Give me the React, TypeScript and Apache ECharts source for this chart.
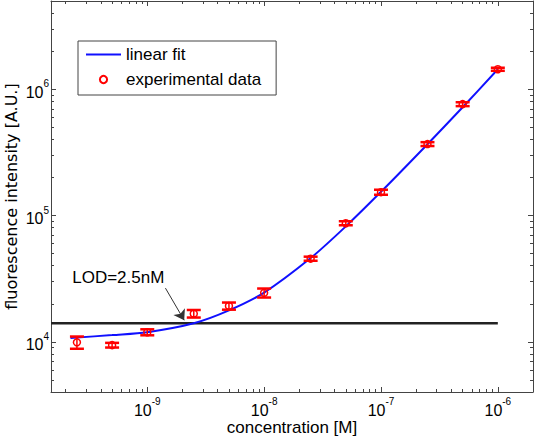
import React, { useEffect, useRef } from 'react';
import * as echarts from 'echarts';

// ---- data ----
const concentrations = [2.5e-10, 5e-10, 1e-9, 2.5e-9, 5e-9, 1e-8, 2.5e-8, 5e-8, 1e-7, 2.5e-7, 5e-7, 1e-6];
const intensities = [9.9e3, 9.4e3, 1.19e4, 1.67e4, 1.92e4, 2.44e4, 4.55e4, 8.69e4, 1.53e5, 3.68e5, 7.62e5, 1.44e6];
const errors = [1100, 400, 650, 1150, 1250, 2000, 1700, 3200, 7000, 13000, 27000, 40000];

const fitConcentrations = [2.2e-10, 5e-10, 1e-9, 2.5e-9, 5e-9, 1e-8, 2.5e-8, 5e-8, 1e-7, 2.5e-7, 5e-7, 1e-6];
const fitValues = [1.07e4, 1.13e4, 1.19e4, 1.4e4, 1.77e4, 2.45e4, 4.6e4, 8.2e4, 1.54e5, 3.67e5, 7.2e5, 1.44e6];

const lodLevel = 1.4e4;
const lodRange = [1.5e-10, 1e-6];
const lodLabel = 'LOD=2.5nM';
const lodLabelPos = [5.65e-10, 3.2e4];
const arrowFrom = [1.43e-9, 2.66e4];
const arrowTo = [2.07e-9, 1.48e4];

const xRange = [1.5e-10, 2e-6];
const yRange = [4e3, 5e6];
const xMajorTicks = [1e-9, 1e-8, 1e-7, 1e-6];
const yMajorTicks = [1e4, 1e5, 1e6];
const minorMantissas = [2, 3, 4, 5, 6, 7, 8, 9];
const xMinorDecades = [1e-10, 1e-9, 1e-8, 1e-7, 1e-6];
const yMinorDecades = [1e3, 1e4, 1e5, 1e6];

const xTitle = 'concentration [M]';
const yTitle = 'fluorescence intensity [A.U.]';
const fitName = 'linear fit';
const dataName = 'experimental data';

const FONT = '"Liberation Sans", Arial, sans-serif';
const AXIS_COLOR = '#444';

const minorTicks = (decades: number[], range: number[]) =>
  decades
    .flatMap((d) => minorMantissas.map((m) => m * d))
    .filter((v) => v > range[0] * 1.0001 && v < range[1] * 0.9999);

const expLabel = (v: number) => {
  const e = v > 0 && (v < 1e-2 || v > 100) ? Math.round(Math.log10(v)) : Math.round(v);
  return `{b|10}{s|${e}}`;
};

const rich = {
  b: { fontSize: 16, fontFamily: FONT, color: '#000', padding: [6, 0, 0, 0] },
  s: { fontSize: 10, fontFamily: FONT, color: '#000', padding: [0, 0, 11, 0] },
};

export default function App() {
  const ref = useRef<HTMLDivElement>(null);

  useEffect(() => {
    if (!ref.current) return;
    const chart = echarts.init(ref.current, null, { renderer: 'svg' });

    const xMinor = minorTicks(xMinorDecades, xRange);
    const yMinor = minorTicks(yMinorDecades, yRange);

    const baseX = (position: 'bottom' | 'top') => ({
      type: 'log' as const,
      logBase: 10,
      min: xRange[0],
      max: xRange[1],
      position,
      splitLine: { show: false },
      axisLine: { show: true, onZero: false, lineStyle: { color: AXIS_COLOR, width: 1 } },
    });
    const baseY = (position: 'left' | 'right') => ({
      type: 'log' as const,
      logBase: 10,
      min: yRange[0],
      max: yRange[1],
      position,
      splitLine: { show: false },
      axisLine: { show: true, onZero: false, lineStyle: { color: AXIS_COLOR, width: 1 } },
    });

    const xAxes = [
      {
        ...baseX('bottom'),
        name: xTitle,
        nameLocation: 'middle',
        nameGap: 27,
        nameMoveOverlap: false,
        nameTextStyle: { fontFamily: FONT, fontSize: 17, color: '#000' },
        axisTick: { show: true, inside: true, length: 5, customValues: xMajorTicks, lineStyle: { color: AXIS_COLOR } },
        axisLabel: { show: true, customValues: xMajorTicks, margin: 4, formatter: expLabel, rich },
      },
      {
        ...baseX('bottom'),
        axisLine: { show: false },
        axisTick: { show: true, inside: true, length: 3, customValues: xMinor, lineStyle: { color: AXIS_COLOR } },
        axisLabel: { show: false },
      },
      {
        ...baseX('top'),
        axisTick: { show: true, inside: true, length: 5, customValues: xMajorTicks, lineStyle: { color: AXIS_COLOR } },
        axisLabel: { show: false },
      },
      {
        ...baseX('top'),
        axisLine: { show: false },
        axisTick: { show: true, inside: true, length: 3, customValues: xMinor, lineStyle: { color: AXIS_COLOR } },
        axisLabel: { show: false },
      },
    ];

    const yAxes = [
      {
        ...baseY('left'),
        name: yTitle,
        nameLocation: 'middle',
        nameGap: 32,
        nameMoveOverlap: false,
        nameTextStyle: { fontFamily: '"DejaVu Sans", sans-serif', fontSize: 16, color: '#000' },
        axisTick: { show: true, inside: true, length: 5, customValues: yMajorTicks, lineStyle: { color: AXIS_COLOR } },
        axisLabel: { show: true, customValues: yMajorTicks, margin: 2, formatter: expLabel, rich },
      },
      {
        ...baseY('left'),
        axisLine: { show: false },
        axisTick: { show: true, inside: true, length: 3, customValues: yMinor, lineStyle: { color: AXIS_COLOR } },
        axisLabel: { show: false },
      },
      {
        ...baseY('right'),
        axisTick: { show: true, inside: true, length: 5, customValues: yMajorTicks, lineStyle: { color: AXIS_COLOR } },
        axisLabel: { show: false },
      },
      {
        ...baseY('right'),
        axisLine: { show: false },
        axisTick: { show: true, inside: true, length: 3, customValues: yMinor, lineStyle: { color: AXIS_COLOR } },
        axisLabel: { show: false },
      },
    ];

    const errorData = concentrations.map((c, i) => [c, intensities[i] - errors[i], intensities[i] + errors[i]]);

    chart.setOption({
      animation: false,
      backgroundColor: '#fff',
      grid: { left: 51, top: 1, right: 2, bottom: 48, containLabel: false, outerBoundsMode: 'none' },
      xAxis: xAxes,
      yAxis: yAxes,
      legend: {
        left: 78,
        top: 41,
        orient: 'vertical',
        padding: [5, 15, 7, 7],
        itemGap: 8,
        itemWidth: 35,
        itemHeight: 9,
        backgroundColor: '#fff',
        borderColor: AXIS_COLOR,
        borderWidth: 1,
        borderRadius: 0,
        selectedMode: false,
        textStyle: { fontFamily: FONT, fontSize: 17, color: '#000' },
        data: [
          { name: fitName, itemStyle: { opacity: 0 } },
          { name: dataName },
        ],
      },
      series: [
        {
          name: 'LOD',
          type: 'line',
          data: lodRange.map((c) => [c, lodLevel]),
          symbol: 'none',
          lineStyle: { color: '#222', width: 2.5 },
          z: 2,
          silent: true,
          markLine: {
            silent: true,
            symbol: ['none', 'arrow'],
            symbolSize: 10,
            itemStyle: { color: '#111' },
            lineStyle: { color: '#333', width: 1, type: 'solid' },
            label: { show: false },
            data: [[{ coord: arrowFrom }, { coord: arrowTo }]],
          },
        },
        {
          name: fitName,
          type: 'line',
          data: fitConcentrations.map((c, i) => [c, fitValues[i]]),
          symbol: 'none',
          smooth: 0.3,
          lineStyle: { color: '#1010ff', width: 2 },
          itemStyle: { color: '#1010ff' },
          z: 3,
          silent: true,
        },
        {
          name: 'error bars',
          type: 'custom',
          data: errorData,
          encode: { x: 0, y: [1, 2] },
          z: 4,
          silent: true,
          renderItem: (_params: any, api: any) => {
            const x = api.value(0);
            const lo = api.coord([x, api.value(1)]);
            const hi = api.coord([x, api.value(2)]);
            const w = 7;
            const bar = { stroke: '#ff0000', lineWidth: 1.5 };
            const cap = { stroke: '#ff0000', lineWidth: 2.5 };
            return {
              type: 'group',
              children: [
                { type: 'line', shape: { x1: lo[0], y1: lo[1], x2: hi[0], y2: hi[1] }, style: bar },
                { type: 'line', shape: { x1: lo[0] - w, y1: lo[1], x2: lo[0] + w, y2: lo[1] }, style: cap },
                { type: 'line', shape: { x1: hi[0] - w, y1: hi[1], x2: hi[0] + w, y2: hi[1] }, style: cap },
              ],
            };
          },
        },
        {
          name: dataName,
          type: 'line',
          data: concentrations.map((c, i) => [c, intensities[i]]),
          symbol: 'circle',
          symbolSize: 7,
          showSymbol: true,
          lineStyle: { width: 0, opacity: 0 },
          itemStyle: { color: 'transparent', borderColor: '#ff0000', borderWidth: 1.5 },
          z: 5,
          silent: true,
        },
      ],
    });

    const p = chart.convertToPixel({ gridIndex: 0 }, lodLabelPos) as number[];
    chart.setOption({
      graphic: [
        {
          type: 'text',
          x: p[0],
          y: p[1],
          style: {
            text: lodLabel,
            font: `17px ${FONT}`,
            fill: '#000',
            align: 'center',
            verticalAlign: 'middle',
          },
        },
      ],
    });

    return () => chart.dispose();
  }, []);

  return (
    <div
      ref={ref}
      style={{ position: 'absolute', left: 0, top: 0, width: 535, height: 440 }}
    />
  );
}
